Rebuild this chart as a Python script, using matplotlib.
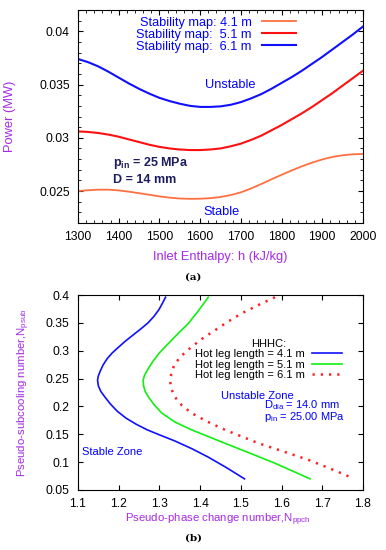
import matplotlib.pyplot as plt
from matplotlib.ticker import MultipleLocator

plt.rcParams['font.family'] = ['Liberation Sans', 'DejaVu Sans']
plt.rcParams['mathtext.fontset'] = 'custom'
plt.rcParams['mathtext.rm'] = 'Liberation Sans'
plt.rcParams['mathtext.it'] = 'Liberation Sans'
plt.rcParams['mathtext.bf'] = 'Liberation Sans:bold'

# (a) stability maps: power (MW) vs inlet enthalpy (kJ/kg)
enthalpy = [1300, 1325, 1350, 1375, 1400, 1425, 1450, 1475, 1500, 1525, 1550, 1575, 1600, 1625, 1650,
            1675, 1700, 1725, 1750, 1775, 1800, 1825, 1850, 1875, 1900, 1925, 1950, 1975, 2000]
power_41 = [0.02500, 0.02508, 0.02513, 0.02513, 0.02506, 0.02494, 0.02480, 0.02465, 0.02450, 0.02438,
            0.02430, 0.02427, 0.02428, 0.02433, 0.02444, 0.02462, 0.02488, 0.02524, 0.02566, 0.02610,
            0.02653, 0.02694, 0.02732, 0.02767, 0.02797, 0.02820, 0.02836, 0.02845, 0.02848]
power_51 = [0.03060, 0.03055, 0.03045, 0.03030, 0.03010, 0.02985, 0.02960, 0.02935, 0.02915, 0.02900,
            0.02890, 0.02885, 0.02885, 0.02890, 0.02900, 0.02920, 0.02945, 0.02980, 0.03020, 0.03070,
            0.03120, 0.03175, 0.03230, 0.03290, 0.03355, 0.03420, 0.03490, 0.03560, 0.03630]
power_61 = [0.03740, 0.03710, 0.03670, 0.03620, 0.03565, 0.03510, 0.03460, 0.03415, 0.03375, 0.03345,
            0.03320, 0.03300, 0.03290, 0.03290, 0.03295, 0.03310, 0.03335, 0.03370, 0.03410, 0.03460,
            0.03515, 0.03570, 0.03630, 0.03695, 0.03760, 0.03830, 0.03900, 0.03970, 0.04045]

# (b) HHHC boundaries: pseudo-phase change number vs pseudo-subcooling number
nppch_41 = [1.315, 1.308, 1.299, 1.287, 1.272, 1.254, 1.235, 1.216, 1.199, 1.184, 1.172, 1.162, 1.155,
            1.150, 1.148, 1.150, 1.156, 1.166, 1.180, 1.197, 1.218, 1.243, 1.270, 1.300, 1.338, 1.380,
            1.420, 1.465, 1.509]
npsub_41 = [0.396, 0.386, 0.374, 0.362, 0.350, 0.339, 0.328, 0.317, 0.306, 0.296, 0.286, 0.275, 0.264,
            0.255, 0.247, 0.237, 0.227, 0.217, 0.204, 0.191, 0.179, 0.168, 0.158, 0.149, 0.138, 0.124,
            0.109, 0.090, 0.070]
nppch_51 = [1.420, 1.396, 1.371, 1.346, 1.322, 1.301, 1.284, 1.271, 1.263, 1.260, 1.261, 1.265,
            1.273, 1.287, 1.306, 1.338, 1.379, 1.440, 1.502, 1.543, 1.584, 1.627, 1.670]
npsub_51 = [0.396, 0.372, 0.349, 0.331, 0.313, 0.297, 0.281, 0.266, 0.255, 0.247, 0.237, 0.227,
            0.217, 0.203, 0.188, 0.172, 0.158, 0.140, 0.122, 0.110, 0.098, 0.084, 0.070]
nppch_61 = [1.584, 1.543, 1.502, 1.468, 1.437, 1.406, 1.379, 1.356, 1.338, 1.330, 1.326, 1.329,
            1.338, 1.355, 1.379, 1.417, 1.461, 1.502, 1.543, 1.605, 1.666, 1.721, 1.776]
npsub_61 = [0.396, 0.382, 0.367, 0.352, 0.337, 0.322, 0.307, 0.292, 0.277, 0.262, 0.247, 0.232,
            0.217, 0.202, 0.188, 0.173, 0.158, 0.146, 0.134, 0.119, 0.104, 0.088, 0.071]

purple = '#a52ae6'
W, H = 386, 550
fig = plt.figure(figsize=(W / 100, H / 100), dpi=100)

def box(l, t, r, b):
    return [l / W, 1 - b / H, (r - l) / W, (b - t) / H]

def style(ax):
    ax.tick_params(which='both', direction='in', top=True, right=True, labelsize=8.7, pad=6)
    ax.tick_params(which='major', length=3.5)
    ax.tick_params(which='minor', length=2)
    for s in ax.spines.values():
        s.set_linewidth(0.8)

# ---- panel (a)
ax1 = fig.add_axes(box(78, 10, 363, 223))
ax1.plot(enthalpy, power_41, color='#ff7040', lw=1.3, label='Stability map: 4.1 m')
ax1.plot(enthalpy, power_51, color='#ff1010', lw=1.5, label='Stability map:  5.1 m')
ax1.plot(enthalpy, power_61, color='#1010ff', lw=1.5, label='Stability map:  6.1 m')
ax1.set_xlim(1300, 2000)
ax1.set_ylim(0.022, 0.042)
ax1.set_yticks([0.025, 0.03, 0.035, 0.04])
ax1.set_yticklabels(['0.025', '0.03', '0.035', '0.04'])
ax1.xaxis.set_minor_locator(MultipleLocator(20))
ax1.yaxis.set_minor_locator(MultipleLocator(0.001))
style(ax1)
ax1.set_xlabel('Inlet Enthalpy: h (kJ/kg)', color=purple, fontsize=9.3)
ax1.xaxis.set_label_coords(0.5, -28 / 213)
ax1.set_ylabel('Power (MW)', color=purple, fontsize=9.3)
ax1.yaxis.set_label_coords(-62 / 285, 0.5)
ax1.legend(loc='upper center', bbox_to_anchor=(0.485, 1.01), frameon=False, markerfirst=False,
           fontsize=9.2, labelcolor='blue', handlelength=2.7, handletextpad=0.8,
           labelspacing=0.0, borderpad=0.2)
ax1.text(1673, 0.0350, 'Unstable', color='blue', fontsize=9.2, ha='center', va='center')
ax1.text(1653, 0.0230, 'Stable', color='blue', fontsize=9.2, ha='center', va='center')
ax1.text(1385, 0.02765, r'p$_{\mathregular{in}}$ = 25 MPa', color='#1c1c5e', fontsize=9,
         fontweight='bold', va='center')
ax1.text(1385, 0.02607, 'D = 14 mm', color='#1c1c5e', fontsize=9, fontweight='bold', va='center')
fig.text(193 / W, 1 - 277 / H, '(a)', family='DejaVu Serif', fontweight='bold', fontsize=7.5,
         ha='center', va='center')

# ---- panel (b)
ax2 = fig.add_axes(box(78, 295, 363, 490))
ax2.plot(nppch_41, npsub_41, color='#1010ff', lw=1.2, label='Hot leg length = 4.1 m')
ax2.plot(nppch_51, npsub_51, color='#10f010', lw=1.2, label='Hot leg length = 5.1 m')
ax2.plot(nppch_61, npsub_61, color='#ff2020', lw=1.8, ls=(0, (0.9, 2.4)), label='Hot leg length = 6.1 m')
ax2.set_xlim(1.1, 1.8)
ax2.set_ylim(0.05, 0.4)
ax2.set_xticks([1.1, 1.2, 1.3, 1.4, 1.5, 1.6, 1.7, 1.8])
ax2.set_xticklabels(['1.1', '1.2', '1.3', '1.4', '1.5', '1.6', '1.7', '1.8'])
ax2.set_yticks([0.05, 0.1, 0.15, 0.2, 0.25, 0.3, 0.35, 0.4])
ax2.set_yticklabels(['0.05', '0.1', '0.15', '0.2', '0.25', '0.3', '0.35', '0.4'])
style(ax2)
ax2.set_xlabel('Pseudo-phase change number,N$_{\\mathregular{ppch}}$', color=purple, fontsize=8.2)
ax2.xaxis.set_label_coords(0.49, -22 / 195)
ax2.set_ylabel('Pseudo-subcooling number,N$_{\\mathregular{psub}}$', color=purple, fontsize=8.2)
ax2.yaxis.set_label_coords(-46 / 285, 0.5)
ax2.legend(loc='upper right', bbox_to_anchor=(0.951, 0.81), frameon=False, markerfirst=False,
           fontsize=8, title='HHHC:', title_fontsize=8, handlelength=2.7, handletextpad=0.7,
           labelspacing=0.05, borderpad=0.1)
ax2.text(1.541, 0.219, 'Unstable Zone', color='blue', fontsize=8, ha='center', va='center')
ax2.text(1.558, 0.202, 'D$_{\\mathregular{dia}}$ = 14.0 mm', color='blue', fontsize=8, va='center')
ax2.text(1.557, 0.181, 'p$_{\\mathregular{in}}$ = 25.00 MPa', color='blue', fontsize=8, va='center')
ax2.text(1.111, 0.119, 'Stable Zone', color='blue', fontsize=8, va='center')
fig.text(193 / W, 1 - 538 / H, '(b)', family='DejaVu Serif', fontweight='bold', fontsize=7.5,
         ha='center', va='center')

fig.savefig('out.png', dpi=100)
